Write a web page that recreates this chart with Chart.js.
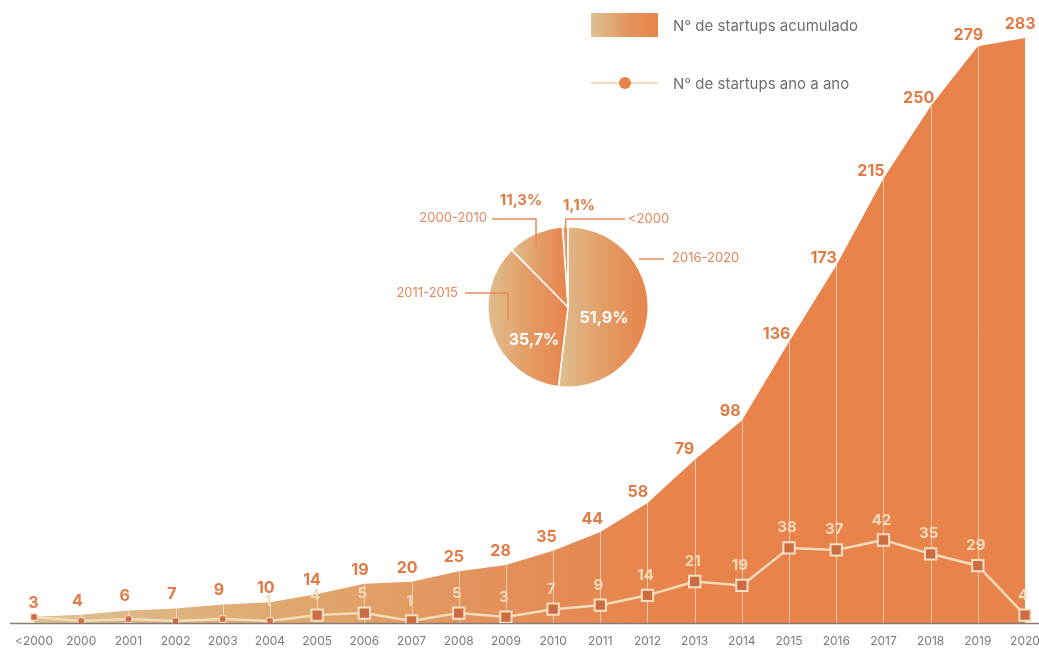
<!DOCTYPE html>
<html lang="pt">
<head>
<meta charset="utf-8">
<title>Startups acumulado</title>
<script src="https://cdn.jsdelivr.net/npm/chart.js@4"></script>
<style>
  html, body { margin: 0; padding: 0; background: #fff; }
  body { width: 1039px; height: 651px; position: relative; overflow: hidden; font-family: Inter, "Noto Sans", sans-serif; }
  #main { position: absolute; left: 0; top: 0; }
  #pie { position: absolute; left: 380px; top: 180px; }
  .leg { position: absolute; left: 591px; height: 24px; display: flex; align-items: center; }
  .leg .key { width: 67px; height: 24px; position: relative; margin-right: 15px; }
  .leg .txt { font-size: 15px; color: #6e6e6e; white-space: nowrap; }
  .key.area { background: linear-gradient(to right, #dcc193, #e3955e 55%, #e8834b); }
  .key.line::before { content: ""; position: absolute; left: 0; right: 0; top: 11px; height: 2px; background: #efd9b8; }
  .key.line::after { content: ""; position: absolute; left: 28px; top: 6px; width: 12px; height: 12px; border-radius: 50%; background: #e5844c; }
</style>
</head>
<body>
<canvas id="main" width="1039" height="651"></canvas>
<canvas id="pie" width="380" height="220"></canvas>

<div class="leg" style="top:13px"><span class="key area"></span><span class="txt">N° de startups acumulado</span></div>
<div class="leg" style="top:71px"><span class="key line"></span><span class="txt">N° de startups ano a ano</span></div>

<script>
// dados
const anos = ['<2000', '2000', '2001', '2002', '2003', '2004', '2005', '2006', '2007', '2008', '2009',
  '2010', '2011', '2012', '2013', '2014', '2015', '2016', '2017', '2018', '2019', '2020'];
const acumulado = [3, 4, 6, 7, 9, 10, 14, 19, 20, 25, 28, 35, 44, 58, 79, 98, 136, 173, 215, 250, 279, 283];
const anoAano = [3, 1, 2, 1, 2, 1, 4, 5, 1, 5, 3, 7, 9, 14, 21, 19, 38, 37, 42, 35, 29, 4];

const periodos = ['<2000', '2016-2020', '2011-2015', '2000-2010'];
const percentagens = [1.1, 51.9, 35.7, 11.3];

const LARANJA = '#e8834b';
const BEGE = '#dcc193';
const CREME = '#f1dcba';
const TXT_LARANJA = '#e17b46';

function fmt(v) { return String(v).replace('.', ','); }

// gradiente horizontal da área
function areaGradient(context) {
  const { chart } = context;
  const area = chart.chartArea;
  if (!area) return LARANJA;
  const g = chart.ctx.createLinearGradient(area.left, 0, area.right, 0);
  g.addColorStop(0, BEGE);
  g.addColorStop(0.28, '#e0a66c');
  g.addColorStop(0.48, '#e48f5a');
  g.addColorStop(0.64, LARANJA);
  g.addColorStop(1, LARANJA);
  return g;
}

// linhas verticais brancas e linha de base, por baixo da série ano a ano
const guias = {
  id: 'guias',
  afterDatasetDraw(chart, args) {
    if (args.index !== 1) return;
    const ctx = chart.ctx;
    const y0 = chart.scales.y.getPixelForValue(0);
    const pts = args.meta.data;
    ctx.save();
    ctx.strokeStyle = 'rgba(255, 236, 220, 0.65)';
    ctx.lineWidth = 1;
    pts.forEach((p, i) => {
      if (i === 0 || i === pts.length - 1) return;
      ctx.beginPath();
      ctx.moveTo(Math.round(p.x) + 0.5, p.y);
      ctx.lineTo(Math.round(p.x) + 0.5, y0);
      ctx.stroke();
    });
    ctx.strokeStyle = '#8a7b6e';
    ctx.lineWidth = 1.5;
    ctx.beginPath();
    ctx.moveTo(10, y0 + 0.5);
    ctx.lineTo(chart.width, y0 + 0.5);
    ctx.stroke();
    ctx.restore();
  }
};

// rótulos dos valores
const rotulos = {
  id: 'rotulos',
  afterDatasetsDraw(chart) {
    const ctx = chart.ctx;
    const area = chart.getDatasetMeta(1).data;
    const linha = chart.getDatasetMeta(0).data;
    ctx.save();
    ctx.textAlign = 'center';
    ctx.textBaseline = 'middle';

    ctx.font = 'bold 16px Inter, "Noto Sans", sans-serif';
    ctx.fillStyle = TXT_LARANJA;
    area.forEach((p, i) => {
      const a = area[Math.max(i - 1, 0)];
      const b = area[Math.min(i + 1, area.length - 1)];
      const dx = b.x - a.x, dy = b.y - a.y;
      const len = Math.hypot(dx, dy) || 1;
      const nx = dy / len, ny = -dx / len;
      ctx.fillText(acumulado[i], p.x + nx * 11 - (i > 0 ? 3 : 0), p.y + ny * 14);
    });

    ctx.font = 'bold 15px Inter, "Noto Sans", sans-serif';
    ctx.fillStyle = CREME;
    linha.forEach((p, i) => {
      if (i < 5) return;
      ctx.fillText(anoAano[i], p.x - 2, p.y - 20);
    });
    ctx.restore();
  }
};

new Chart(document.getElementById('main'), {
  type: 'line',
  data: {
    labels: anos,
    datasets: [
      {
        label: 'N° de startups ano a ano',
        data: anoAano,
        yAxisID: 'y2',
        order: 0,
        borderColor: CREME,
        borderWidth: 2.5,
        tension: 0,
        pointStyle: 'rect',
        pointRadius: anoAano.map((v, i) => i < 6 ? 4.5 : 8),
        pointBackgroundColor: '#cd6c43',
        pointBorderColor: '#f4e1c3',
        pointBorderWidth: anoAano.map((v, i) => i < 6 ? 1 : 2)
      },
      {
        label: 'N° de startups acumulado',
        data: acumulado,
        yAxisID: 'y',
        order: 1,
        fill: 'origin',
        backgroundColor: areaGradient,
        borderWidth: 0,
        pointRadius: 0,
        tension: 0
      }
    ]
  },
  options: {
    responsive: false,
    animation: false,
    layout: { padding: { left: 34, right: 14, top: 38, bottom: 0 } },
    plugins: { legend: { display: false }, tooltip: { enabled: false } },
    scales: {
      x: {
        offset: false,
        grid: { display: false, drawTicks: false },
        border: { display: false },
        ticks: {
          color: '#7a7a7a',
          font: { family: 'Inter', size: 12 },
          padding: 11,
          autoSkip: false,
          maxRotation: 0
        },
        afterFit(scale) {
          scale.height = 28;
          scale.paddingLeft = 0;
          scale.paddingRight = 0;
        }
      },
      y: { display: false, min: 0, max: 283 },
      y2: { display: false, min: 0, max: 296 }
    }
  },
  plugins: [guias, rotulos]
});

// ---- gráfico circular ----
const rotacao = -percentagens[0] * 3.6;

function sliceGradient(context) {
  const { chart, dataIndex } = context;
  const area = chart.chartArea;
  if (!area) return LARANJA;
  const cx = (area.left + area.right) / 2;
  const r = Math.min(area.right - area.left, area.bottom - area.top) / 2;
  let a0 = rotacao;
  for (let k = 0; k < dataIndex; k++) a0 += percentagens[k] * 3.6;
  const a1 = a0 + percentagens[dataIndex] * 3.6;
  let minX = cx, maxX = cx;
  for (let a = a0; a <= a1; a += 1) {
    const x = cx + r * Math.sin(a * Math.PI / 180);
    minX = Math.min(minX, x); maxX = Math.max(maxX, x);
  }
  const xe = cx + r * Math.sin(a1 * Math.PI / 180);
  minX = Math.min(minX, xe); maxX = Math.max(maxX, xe);
  if (maxX - minX < 2) return '#e39a64';
  const g = chart.ctx.createLinearGradient(minX, 0, maxX, 0);
  g.addColorStop(0, '#dfbf90');
  g.addColorStop(0.5, '#e49d66');
  g.addColorStop(1, LARANJA);
  return g;
}

// legendas e linhas de chamada do gráfico circular
const chamadas = {
  id: 'chamadas',
  afterDraw(chart) {
    const arc = chart.getDatasetMeta(0).data[0];
    const cx = arc.x, cy = arc.y;
    const ctx = chart.ctx;
    ctx.save();
    ctx.strokeStyle = '#e8895a';
    ctx.lineWidth = 1.5;
    const linhas = [
      [[-76, -88], [-32, -88], [-32, -60]],
      [[57, -88], [-2, -88], [-3, -75]],
      [[71, -48], [96, -48]],
      [[-103, -14], [-60, -14], [-60, 13]]
    ];
    linhas.forEach(seg => {
      ctx.beginPath();
      seg.forEach(([dx, dy], k) => k ? ctx.lineTo(cx + dx, cy + dy) : ctx.moveTo(cx + dx, cy + dy));
      ctx.stroke();
    });

    ctx.textBaseline = 'middle';
    ctx.font = '13px Inter, "Noto Sans", sans-serif';
    ctx.fillStyle = '#e3875a';
    ctx.textAlign = 'right';
    ctx.fillText(periodos[3], cx - 81, cy - 89);
    ctx.fillText(periodos[2], cx - 110, cy - 14);
    ctx.textAlign = 'left';
    ctx.fillText(periodos[0], cx + 60, cy - 88);
    ctx.fillText(periodos[1], cx + 104, cy - 49);

    ctx.textAlign = 'center';
    ctx.font = 'bold 15px Inter, "Noto Sans", sans-serif';
    ctx.fillStyle = TXT_LARANJA;
    ctx.fillText(fmt(percentagens[3]) + '%', cx - 47, cy - 107);
    ctx.fillText(fmt(percentagens[0]) + '%', cx + 11, cy - 102);
    ctx.font = 'bold 16px Inter, "Noto Sans", sans-serif';
    ctx.fillStyle = '#ffffff';
    ctx.fillText(fmt(percentagens[1]) + '%', cx + 36, cy + 11);
    ctx.fillText(fmt(percentagens[2]) + '%', cx - 34, cy + 33);
    ctx.restore();
  }
};

new Chart(document.getElementById('pie'), {
  type: 'pie',
  data: {
    labels: periodos,
    datasets: [{
      data: percentagens,
      backgroundColor: sliceGradient,
      borderColor: '#ffffff',
      borderWidth: 1.5
    }]
  },
  options: {
    responsive: false,
    animation: false,
    rotation: rotacao,
    layout: { padding: { left: 107, right: 111, top: 45, bottom: 11 } },
    plugins: { legend: { display: false }, tooltip: { enabled: false } }
  },
  plugins: [chamadas]
});
</script>
</body>
</html>
